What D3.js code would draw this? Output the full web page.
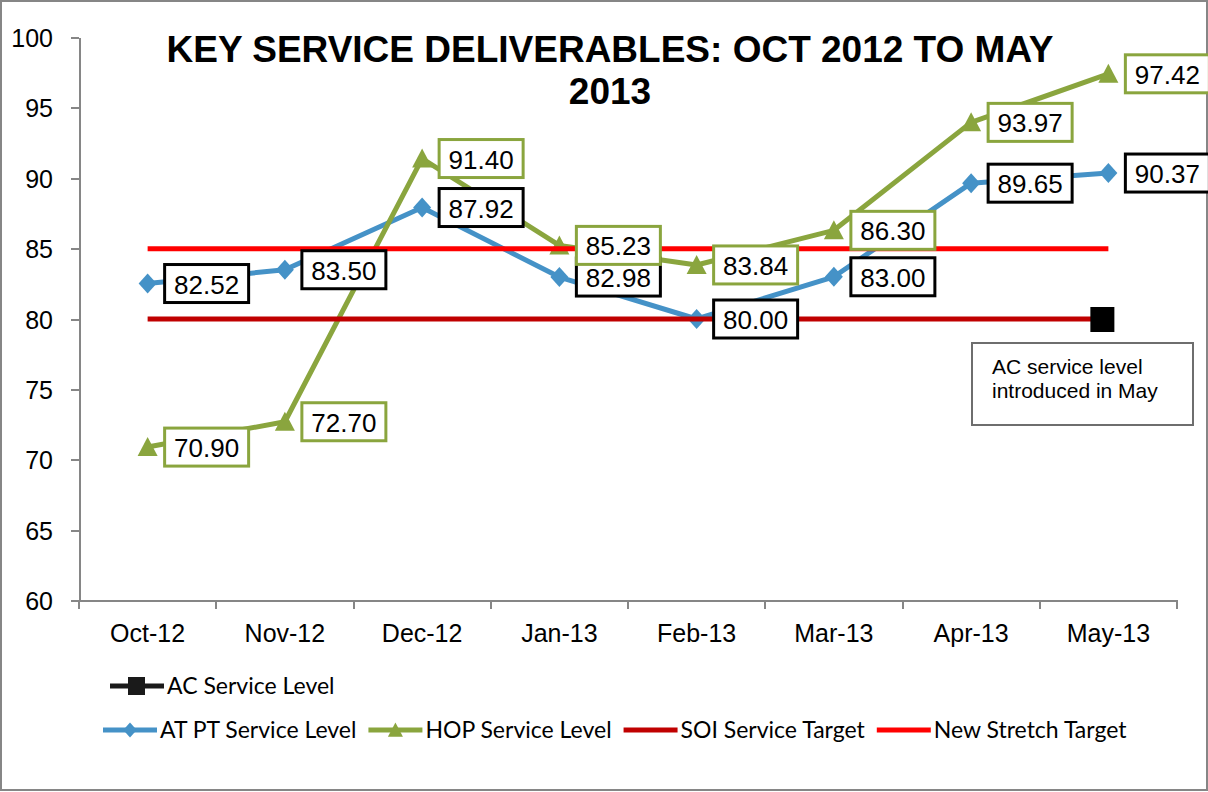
<!DOCTYPE html>
<html>
<head>
<meta charset="utf-8">
<title>Key Service Deliverables</title>
<script src="https://d3js.org/d3.v7.min.js"></script>
<style>
body { margin: 0; background: #fff; }
svg text { font-family: "Liberation Sans", Arial, sans-serif; }
.axis path, .axis line { stroke: #868686; stroke-width: 2px; shape-rendering: crispEdges; }
.axis text { font-size: 25px; fill: #000; }
.legend text { font-family: Lato, "Open Sans", sans-serif; font-size: 23px; fill: #000; }
</style>
</head>
<body>
<svg width="1208" height="792"></svg>
<script>
// chart data
var months = ["Oct-12", "Nov-12", "Dec-12", "Jan-13", "Feb-13", "Mar-13", "Apr-13", "May-13"];
var atptValues = [82.52, 83.50, 87.92, 82.98, 80.00, 83.00, 89.65, 90.37];
var hopValues = [70.90, 72.70, 91.40, 85.23, 83.84, 86.30, 93.97, 97.42];
var soiTarget = [80, 80, 80, 80, 80, 80, 80, 80];
var stretchTarget = [85, 85, 85, 85, 85, 85, 85, 85];
var acMonth = "May-13";
var acValue = 80;
var yTicks = [60, 65, 70, 75, 80, 85, 90, 95, 100];
var titleLines = ["KEY SERVICE DELIVERABLES: OCT 2012 TO MAY", "2013"];
var noteLines = ["AC service level", "introduced in May"];

var blue = "#4592c7", green = "#8aa53e", darkRed = "#c00000", red = "#ff0000";

var svg = d3.select("svg");

// outer frame
svg.append("rect")
    .attr("x", 1).attr("y", 1)
    .attr("width", 1206).attr("height", 789)
    .attr("fill", "#fff")
    .attr("stroke", "#868686")
    .attr("stroke-width", 2);

var x = d3.scaleBand().domain(months).range([79, 1177]);
var y = d3.scaleLinear().domain([60, 100]).range([600.5, 37.5]);
function cx(m) { return x(m) + x.bandwidth() / 2; }

// axes
var xAxis = svg.append("g")
    .attr("class", "axis")
    .attr("transform", "translate(0," + y(60) + ")")
    .call(d3.axisBottom(x).tickSize(0).tickSizeOuter(0));
xAxis.selectAll("text").attr("dy", null).attr("y", 41);
// category boundary ticks
xAxis.selectAll(".bnd")
    .data(months.concat(["end"]))
    .enter().append("line")
    .attr("class", "bnd")
    .attr("x1", function(d, i) { return 79 + i * x.bandwidth(); })
    .attr("x2", function(d, i) { return 79 + i * x.bandwidth(); })
    .attr("y1", 0).attr("y2", 8);

var yAxis = svg.append("g")
    .attr("class", "axis")
    .attr("transform", "translate(79,0)")
    .call(d3.axisLeft(y).tickValues(yTicks).tickSize(8).tickSizeOuter(0).tickPadding(18));
yAxis.selectAll("text").attr("dy", "0.36em");

// series lines
var line = d3.line()
    .x(function(d, i) { return cx(months[i]); })
    .y(function(d) { return y(d); });

function drawSeries(vals, color, marker) {
  svg.append("path")
      .datum(vals)
      .attr("fill", "none")
      .attr("stroke", color)
      .attr("stroke-width", 5)
      .attr("stroke-linejoin", "round")
      .attr("d", line);
  svg.selectAll(null)
      .data(vals)
      .enter().append("path")
      .attr("transform", function(d, i) { return "translate(" + cx(months[i]) + "," + y(d) + ")"; })
      .attr("d", marker)
      .attr("fill", color);
}
var diamond = "M0,-10L9,0L0,10L-9,0Z";
var triangle = "M0,-10L10,9L-10,9Z";

drawSeries(atptValues, blue, diamond);
drawSeries(hopValues, green, triangle);

// targets
function drawTarget(vals, color) {
  svg.append("path")
      .datum(vals)
      .attr("fill", "none")
      .attr("stroke", color)
      .attr("stroke-width", 5)
      .attr("d", line);
}
drawTarget(soiTarget, darkRed);
drawTarget(stretchTarget, red);

// AC service level point
svg.append("rect")
    .attr("x", cx(acMonth) - 18)
    .attr("y", y(acValue) - 12)
    .attr("width", 24).attr("height", 25)
    .attr("fill", "#000");

// data labels
function drawLabels(vals, color) {
  var g = svg.selectAll(null)
      .data(vals)
      .enter().append("g")
      .attr("transform", function(d, i) { return "translate(" + (cx(months[i]) + 17) + "," + y(d) + ")"; });
  g.append("rect")
      .attr("x", 0).attr("y", -19)
      .attr("width", 84).attr("height", 38)
      .attr("fill", "#fff")
      .attr("stroke", color)
      .attr("stroke-width", 3);
  g.append("text")
      .attr("x", 42).attr("y", 10)
      .attr("text-anchor", "middle")
      .style("font-size", "26px")
      .text(function(d) { return d.toFixed(2); });
}
drawLabels(atptValues, "#000");
drawLabels(hopValues, green);

// note box
svg.append("rect")
    .attr("x", 972).attr("y", 343)
    .attr("width", 221).attr("height", 82)
    .attr("fill", "#fff")
    .attr("stroke", "#6e6e6e")
    .attr("stroke-width", 2);
svg.selectAll(null)
    .data(noteLines)
    .enter().append("text")
    .attr("x", 992)
    .attr("y", function(d, i) { return 374 + i * 24; })
    .style("font-size", "21px")
    .text(function(d) { return d; });

// title
svg.selectAll(null)
    .data(titleLines)
    .enter().append("text")
    .attr("x", 610)
    .attr("y", function(d, i) { return 62 + i * 42; })
    .attr("text-anchor", "middle")
    .style("font-size", "37px")
    .style("font-weight", "bold")
    .text(function(d) { return d; });

// legend
var legend = svg.append("g").attr("class", "legend");
var legendRows = [
  [{name: "AC Service Level", color: "#1a1a1a", marker: "square"}],
  [{name: "AT PT Service Level", color: blue, marker: diamond},
   {name: "HOP Service Level", color: green, marker: triangle},
   {name: "SOI Service Target", color: darkRed, marker: null},
   {name: "New Stretch Target", color: red, marker: null}]
];
var rowY = [686, 730];
var rowX = [110, 103];
legendRows.forEach(function(row, r) {
  var lx = rowX[r];
  row.forEach(function(item) {
    legend.append("line")
        .attr("x1", lx).attr("x2", lx + 54)
        .attr("y1", rowY[r]).attr("y2", rowY[r])
        .attr("stroke", item.color)
        .attr("stroke-width", 5);
    if (item.marker === "square") {
      legend.append("rect")
          .attr("x", lx + 18).attr("y", rowY[r] - 9)
          .attr("width", 17).attr("height", 18)
          .attr("fill", item.color);
    } else if (item.marker) {
      legend.append("path")
          .attr("transform", "translate(" + (lx + 27) + "," + rowY[r] + ") scale(0.75)")
          .attr("d", item.marker)
          .attr("fill", item.color);
    }
    var t = legend.append("text")
        .attr("x", lx + 57)
        .attr("y", rowY[r])
        .attr("dy", "0.35em")
        .text(item.name);
    lx += 57 + t.node().getComputedTextLength() + 12;
  });
});
</script>
</body>
</html>
